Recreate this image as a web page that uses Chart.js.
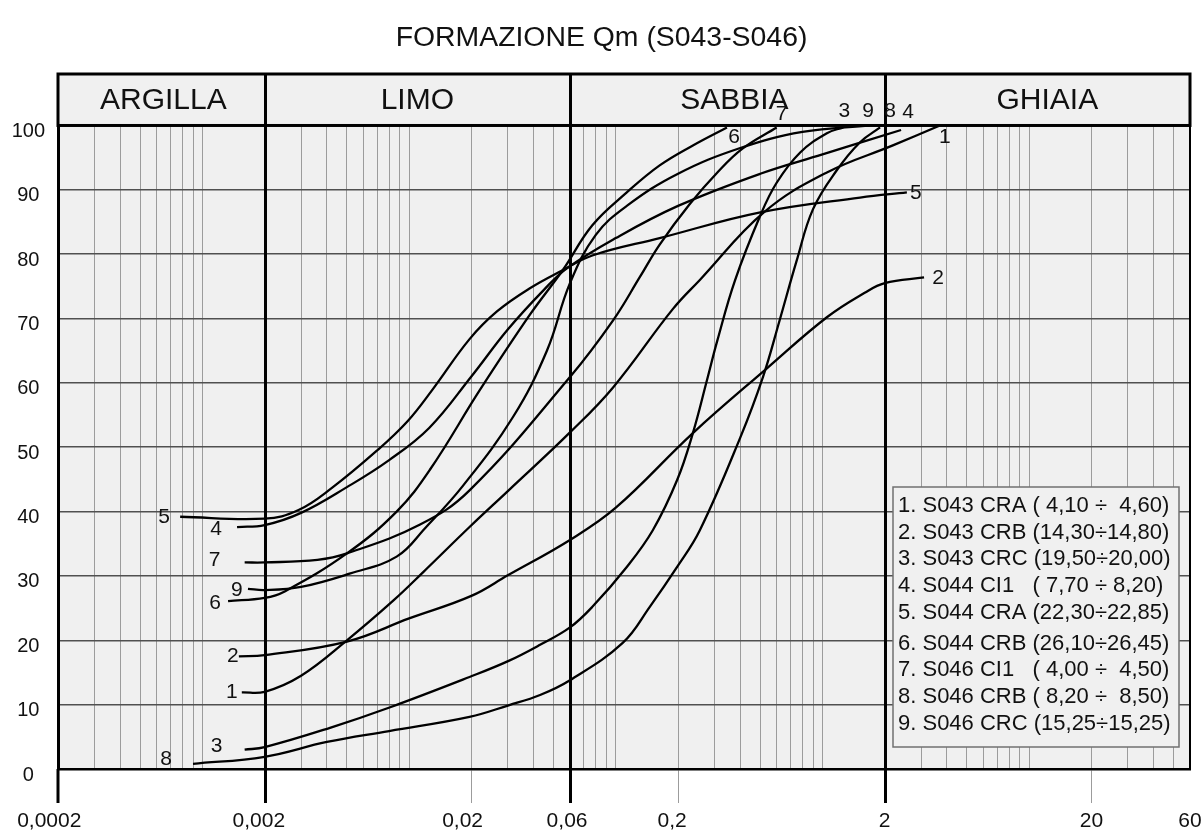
<!DOCTYPE html>
<html lang="it">
<head>
<meta charset="UTF-8">
<title>Formazione Qm (S043-S046)</title>
<script src="https://cdn.jsdelivr.net/npm/chart.js"></script>
<style>
  html, body { margin: 0; padding: 0; background: #fff; }
  #wrap { width: 1203px; height: 830px; }
</style>
</head>
<body>
<div id="wrap"><canvas id="chart" width="1203" height="830"></canvas></div>
<script>
const FONT = '"Liberation Sans", Arial, Helvetica, sans-serif';

// [diametro mm, passante %]
const curve1 = [[0.00155, 11.9], [0.002, 12.0], [0.003, 14.5], [0.005, 20], [0.0084, 26.2], [0.0117, 30.6], [0.0196, 37.6], [0.0303, 43.3], [0.06, 52.3], [0.097, 59.3], [0.189, 71.5], [0.255, 76], [0.52, 86.5], [1.05, 92.7], [2.19, 96.9], [3.7, 100]];
const curve2 = [[0.0015, 17.5], [0.002, 17.7], [0.005, 19.8], [0.01, 23.4], [0.02, 26.9], [0.03, 30.1], [0.06, 35.6], [0.1, 40.6], [0.236, 52.2], [0.54, 62.3], [1.05, 70.2], [1.6, 74], [2.0, 75.5], [3.1, 76.4]];
const curve3 = [[0.0016, 3.0], [0.002, 3.4], [0.00414, 6.4], [0.0081, 9.6], [0.0196, 14.3], [0.0303, 16.8], [0.043, 19.3], [0.06, 22], [0.077, 25.2], [0.113, 31.4], [0.151, 37.1], [0.198, 44.9], [0.236, 52.2], [0.276, 60.4], [0.31, 66.6], [0.377, 75.9], [0.5, 86], [0.6, 91.1], [0.78, 95.8], [1.05, 98.8], [1.26, 99.7]];
const curve4 = [[0.00147, 37.6], [0.002, 37.9], [0.003, 39.8], [0.005, 43.8], [0.008, 48], [0.0125, 53], [0.02, 61], [0.03, 68.3], [0.045, 74.5], [0.058, 77.8], [0.1, 82.5], [0.2, 87.5], [0.5, 92.5], [1.0, 95.5], [2.4, 99.3]];
const curve5 = [[0.00078, 39.2], [0.002, 38.9], [0.0029, 40.2], [0.0042, 43.6], [0.007, 49.5], [0.0098, 54], [0.013, 59], [0.0196, 66.8], [0.0266, 71.1], [0.0384, 74.7], [0.0553, 77.5], [0.077, 79.8], [0.163, 82.5], [0.5, 86.5], [1.52, 88.8], [2.56, 89.6]];
const curve6 = [[0.00133, 26.1], [0.002, 26.6], [0.0025, 27.6], [0.005, 33.5], [0.0087, 40], [0.0126, 46.5], [0.022, 58.9], [0.0384, 70.6], [0.0553, 77.5], [0.077, 84.5], [0.113, 89.6], [0.163, 93.8], [0.236, 96.9], [0.345, 99.7]];
const curve7 = [[0.0016, 32.1], [0.002, 32.1], [0.0036, 32.5], [0.005, 33.5], [0.0113, 38], [0.0196, 43.3], [0.06, 60.9], [0.097, 69.7], [0.131, 76.5], [0.163, 81.5], [0.228, 87.8], [0.31, 92.7], [0.41, 96.4], [0.6, 99.7]];
const curve8 = [[0.0009, 0.8], [0.002, 1.9], [0.004, 4.2], [0.008, 5.9], [0.0196, 8.1], [0.0303, 9.9], [0.043, 11.5], [0.06, 13.8], [0.108, 19.6], [0.146, 25.2], [0.198, 31.4], [0.255, 37.1], [0.4, 51.5], [0.515, 60.9], [0.62, 69.7], [0.75, 79], [0.9, 87], [1.17, 93], [1.52, 97.4], [1.9, 99.7]];
const curve9 = [[0.00166, 28], [0.002, 27.8], [0.003, 28.3], [0.0052, 30.4], [0.0087, 33], [0.012, 37.5], [0.0182, 44], [0.0318, 54.7], [0.0464, 65], [0.06, 75.5], [0.08, 83], [0.113, 87.5], [0.2, 92.5], [0.4, 96.5], [0.8, 99], [1.7, 100]];

const curveNames = ['1', '2', '3', '4', '5', '6', '7', '8', '9'];
const legendLines = [
  '1. S043 CRA ( 4,10 \u00f7  4,60)',
  '2. S043 CRB (14,30\u00f714,80)',
  '3. S043 CRC (19,50\u00f720,00)',
  '4. S044 CI1   ( 7,70 \u00f7 8,20)',
  '5. S044 CRA (22,30\u00f722,85)',
  '6. S044 CRB (26,10\u00f726,45)',
  '7. S046 CI1   ( 4,00 \u00f7  4,50)',
  '8. S046 CRB ( 8,20 \u00f7  8,50)',
  '9. S046 CRC (15,25\u00f715,25)'
];
const zoneNames = ['ARGILLA', 'LIMO', 'SABBIA', 'GHIAIA'];
const zoneBounds = [0.0002, 0.002, 0.06, 2, 60];
const xTickValues = [0.0002, 0.002, 0.02, 0.06, 0.2, 2, 20, 60];
const xTickLabels = ['0,0002   ', '0,002  ', '0,02   ', '0,06 ', '0,2  ', '2', '20', '60'];
const yTickValues = [0, 10, 20, 30, 40, 50, 60, 70, 80, 90, 100];

const curves = [curve1, curve2, curve3, curve4, curve5, curve6, curve7, curve8, curve9];

// all log grid lines 1..9 x 10^k inside the range
function logGrid(min, max) {
  const out = [];
  for (let e = -4; e <= 1; e++) {
    for (let m = 1; m <= 9; m++) {
      const v = +(m * Math.pow(10, e)).toPrecision(3);
      if (v >= min - 1e-12 && v <= max + 1e-12) out.push(v);
    }
  }
  return out;
}
const same = (a, b) => Math.abs(a - b) / b < 1e-6;
const labelIndex = v => xTickValues.findIndex(t => same(t, v));
const isZone = v => zoneBounds.some(t => same(t, v));

// label offsets (text centre relative to first / last point)
const startOff = [[-10, 0], [-6, 0], [-28, -3], [-21, 2], [-16, 0], [-13, 2], [-30, -2], [-27, -5], [-11, 1]];
const endOff = [[5, 12], [14, 1], [1, -16], [7, -18], [9, 1], [7, 10], [5, -13], [10, -16], [-2, -14]];

const framePlugin = {
  id: 'frame',
  beforeDraw(chart) {
    const { ctx, chartArea: a } = chart;
    ctx.save();
    ctx.fillStyle = '#f0f0f0';
    ctx.fillRect(a.left, 74, a.right - a.left, a.bottom - 74);
    ctx.restore();
  },
  beforeDatasetsDraw(chart) {
    const { ctx, chartArea: a, scales: { x } } = chart;
    ctx.save();
    ctx.strokeStyle = '#000';
    ctx.lineWidth = 3;
    // header box
    ctx.strokeRect(a.left, 74, a.right - a.left, a.top - 74);
    // right border
    ctx.beginPath();
    ctx.lineWidth = 2;
    ctx.moveTo(a.right, a.top); ctx.lineTo(a.right, a.bottom);
    ctx.stroke();
    // zone dividers
    ctx.lineWidth = 3;
    zoneBounds.slice(1, -1).forEach(v => {
      const px = Math.round(x.getPixelForValue(v)) + 0.5;
      ctx.beginPath(); ctx.moveTo(px, 74); ctx.lineTo(px, 803); ctx.stroke();
    });
    // left edge tick
    ctx.beginPath(); ctx.moveTo(a.left, a.bottom); ctx.lineTo(a.left, 803); ctx.stroke();
    // header names
    ctx.fillStyle = '#111';
    ctx.font = '30px ' + FONT;
    ctx.textAlign = 'center';
    ctx.textBaseline = 'middle';
    const nudge = [2, 0, 7, 10];
    zoneNames.forEach((n, i) => {
      const c = Math.sqrt(zoneBounds[i] * zoneBounds[i + 1]);
      ctx.fillText(n, x.getPixelForValue(c) + nudge[i], 101);
    });
    ctx.restore();
  },
  afterDatasetsDraw(chart) {
    const { ctx } = chart;
    ctx.save();
    ctx.fillStyle = '#111';
    ctx.font = '21px ' + FONT;
    ctx.textAlign = 'center';
    ctx.textBaseline = 'middle';
    chart.data.datasets.forEach((ds, i) => {
      const pts = chart.getDatasetMeta(i).data;
      const f = pts[0], l = pts[pts.length - 1];
      ctx.fillText(ds.label, f.x + startOff[i][0], f.y + startOff[i][1]);
      ctx.fillText(ds.label, l.x + endOff[i][0], l.y + endOff[i][1]);
    });
    // legend box
    const bx = 893, by = 487, bw = 286, bh = 260;
    ctx.fillStyle = '#f0f0f0';
    ctx.fillRect(bx, by, bw, bh);
    ctx.strokeStyle = '#707070';
    ctx.lineWidth = 1.5;
    ctx.strokeRect(bx, by, bw, bh);
    ctx.fillStyle = '#111';
    ctx.textAlign = 'left';
    ctx.font = '22px ' + FONT;
    legendLines.forEach((t, i) => {
      const y = by + 19 + i * 26.7 + (i >= 5 ? 4 : 0);
      ctx.fillText(t, bx + 5, y);
    });
    ctx.restore();
  }
};

new Chart(document.getElementById('chart'), {
  type: 'line',
  data: {
    datasets: curves.map((c, i) => ({
      label: curveNames[i],
      data: c.map(p => ({ x: p[0], y: p[1] })),
      borderColor: '#000',
      borderWidth: 2.3,
      pointRadius: 0,
      fill: false,
      tension: 0.4
    }))
  },
  options: {
    responsive: false,
    animation: false,
    devicePixelRatio: 1,
    layout: { padding: { top: 0, right: 13, left: 13, bottom: 0 } },
    plugins: {
      legend: { display: false },
      tooltip: { enabled: false },
      title: {
        display: true,
        text: 'FORMAZIONE Qm (S043-S046)',
        color: '#111',
        font: { family: FONT, size: 28.4, weight: 'normal' },
        padding: { top: 21, bottom: 70.4 }
      }
    },
    scales: {
      x: {
        type: 'logarithmic',
        min: 0.0002,
        max: 60,
        afterBuildTicks: s => { s.ticks = logGrid(0.0002, 60).map(v => ({ value: v })); },
        afterFit: s => { s.height = 61; s.paddingRight = 0; s.paddingLeft = 0; },
        ticks: {
          autoSkip: false,
          maxRotation: 0,
          padding: 6,
          color: '#111',
          font: { family: FONT, size: 21 },
          callback: v => { const k = labelIndex(v); return k >= 0 ? xTickLabels[k] : ''; }
        },
        grid: {
          color: c => isZone(c.tick.value) ? 'rgba(0,0,0,0)' : '#9c9c9c',
          lineWidth: 1,
          tickLength: 34,
          tickColor: c => (labelIndex(c.tick.value) >= 0 && !isZone(c.tick.value)) ? '#9c9c9c' : 'rgba(0,0,0,0)',
          tickWidth: 1
        },
        border: { color: '#000', width: 2.5 }
      },
      y: {
        min: 0,
        max: 100,
        afterBuildTicks: s => { s.ticks = yTickValues.map(v => ({ value: v })); },
        afterFit: s => { s.width = 45; },
        ticks: {
          padding: 13,
          crossAlign: 'center',
          labelOffset: 6,
          color: '#111',
          font: { family: FONT, size: 20 }
        },
        grid: {
          color: c => (c.tick.value === 0 || c.tick.value === 100) ? 'rgba(0,0,0,0)' : '#505050',
          lineWidth: 1.5,
          drawTicks: false
        },
        border: { color: '#000', width: 3 }
      }
    }
  },
  plugins: [framePlugin]
});
</script>
</body>
</html>
